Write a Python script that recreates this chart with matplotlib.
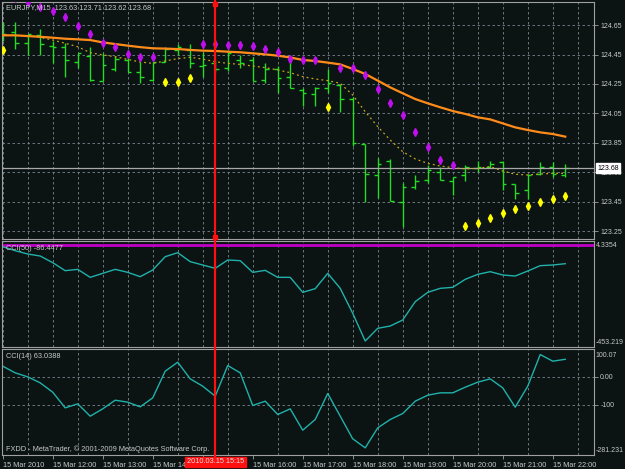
import numpy as np
import matplotlib.pyplot as plt
from matplotlib.transforms import blended_transform_factory

nan = np.nan

# EURJPY M15, 15 Mar 2010 11:00 .. 22:15 (46 bars)
opens = [124.60, 124.60, 124.53, 124.58, 124.51, 124.50, 124.40, 124.44, 124.27, 124.35,
         124.41, 124.33, 124.28, 124.40, 124.48, 124.48, 124.37, 124.39, 124.36, 124.41,
         124.41, 124.28, 124.35, 124.30, 124.21, 124.18, 124.22, 124.24, 124.15, 123.84,
         123.63, 123.73, 123.45, 123.55, 123.60, 123.65, 123.59, 123.63, 123.68, 123.69,
         123.72, 123.57, 123.53, 123.64, 123.69, 123.63]
highs = [124.67, 124.67, 124.59, 124.62, 124.54, 124.53, 124.46, 124.50, 124.46, 124.44,
         124.46, 124.40, 124.40, 124.50, 124.52, 124.52, 124.47, 124.41, 124.48, 124.45,
         124.43, 124.39, 124.37, 124.41, 124.22, 124.23, 124.35, 124.25, 124.16, 123.84,
         123.75, 123.74, 123.58, 123.63, 123.70, 123.69, 123.62, 123.70, 123.73, 123.73,
         123.73, 123.57, 123.64, 123.72, 123.72, 123.71]
lows = [124.54, 124.49, 124.45, 124.45, 124.39, 124.30, 124.36, 124.27, 124.27, 124.34,
        124.33, 124.26, 124.27, 124.40, 124.45, 124.36, 124.30, 124.33, 124.34, 124.36,
        124.27, 124.26, 124.19, 124.22, 124.10, 124.10, 124.19, 124.06, 123.83, 123.45,
        123.48, 123.46, 123.28, 123.54, 123.58, 123.60, 123.50, 123.59, 123.65, 123.68,
        123.53, 123.47, 123.47, 123.63, 123.62, 123.62]
closes = [124.59, 124.53, 124.59, 124.52, 124.50, 124.41, 124.46, 124.28, 124.38, 124.42,
          124.33, 124.30, 124.40, 124.49, 124.50, 124.39, 124.38, 124.35, 124.46, 124.39,
          124.27, 124.35, 124.29, 124.22, 124.19, 124.22, 124.26, 124.15, 123.85, 123.64,
          123.71, 123.46, 123.55, 123.59, 123.67, 123.60, 123.62, 123.69, 123.69, 123.71,
          123.57, 123.51, 123.63, 123.69, 123.64, 123.68]

ma_slow = [124.58, 124.58, 124.575, 124.57, 124.564, 124.557, 124.553, 124.548, 124.532, 124.521,
           124.51, 124.50, 124.492, 124.49, 124.487, 124.481, 124.476, 124.474, 124.469, 124.465,
           124.458, 124.451, 124.442, 124.43, 124.413, 124.406, 124.395, 124.383, 124.352, 124.318,
           124.273, 124.227, 124.187, 124.148, 124.119, 124.092, 124.067, 124.047, 124.024, 124.010,
           123.983, 123.956, 123.938, 123.922, 123.911, 123.893]
ma_fast = [nan, nan, 124.58, 124.566, 124.548, 124.526, 124.503, 124.462, 124.447, 124.435,
           124.417, 124.399, 124.39, 124.406, 124.422, 124.431, 124.419, 124.401, 124.39, 124.383,
           124.372, 124.361, 124.345, 124.327, 124.30, 124.284, 124.273, 124.255, 124.175, 124.062,
           123.961, 123.87, 123.791, 123.742, 123.712, 123.694, 123.683, 123.674, 123.678, 123.69,
           123.66, 123.638, 123.633, 123.64, 123.644, 123.644]

sar_above = [nan, 124.83, 124.808, 124.774, 124.747, 124.706, 124.643, 124.589, 124.530, 124.499,
             124.453, 124.431, 124.431, nan, nan, nan, 124.521, 124.521, 124.512, 124.512,
             124.508, 124.490, 124.465, 124.422, 124.413, 124.410, nan, 124.356, 124.356, 124.313,
             124.214, 124.123, 124.040, 123.922, 123.825, 123.735, 123.701, nan, nan, nan,
             nan, nan, nan, nan, nan, nan]
sar_below = [124.481, nan, nan, nan, nan, nan, nan, nan, nan, nan,
             nan, nan, nan, 124.266, 124.266, 124.288, nan, nan, nan, nan,
             nan, nan, nan, nan, nan, nan, 124.096, nan, nan, nan,
             nan, nan, nan, nan, nan, nan, nan, 123.287, 123.310, 123.339,
             123.373, 123.400, 123.425, 123.452, 123.470, 123.493]

cci50 = [-9.8, -27.8, -42.8, -51.8, -81.8, -117.9, -111.9, -147.9, -129.9, -111.9,
         -125.4, -144.9, -114.9, -54.8, -36.8, -77.3, -92.3, -107.4, -69.8, -72.8,
         -125.4, -116.4, -147.9, -147.9, -215.5, -198.9, -129.9, -197.4, -310.1, -434.7,
         -377.6, -367.1, -340.1, -257.5, -215.5, -197.4, -192.9, -156.9, -134.4, -122.4,
         -137.4, -141.9, -119.4, -95.3, -92.3, -86.4477]
cci14 = [38.3, 14.3, -0.1, -21.7, -55.3, -111.6, -97.2, -141.6, -115.2, -84.1,
         -91.2, -108.0, -75.7, 20.3, 52.6, -7.3, -33.7, -69.7, 40.6, 14.3,
         -103.2, -87.6, -135.6, -115.2, -192.0, -153.6, -60.1, -141.6, -223.1, -255.5,
         -183.6, -153.6, -132.0, -87.6, -66.1, -57.6, -57.6, -37.3, -19.3, -7.3,
         -39.7, -109.2, -33.7, 80.2, 56.2, 63.0388]

price_ticks = [124.65, 124.45, 124.25, 124.05, 123.85, 123.65, 123.45, 123.25]
hour_bars = list(range(0, 46, 4))
# the 15:00 label sits under the cursor's time box in the terminal
hour_labels = ["15 Mar 2010", "15 Mar 12:00", "15 Mar 13:00", "15 Mar 14:00",
               "", "15 Mar 16:00", "15 Mar 17:00", "15 Mar 18:00",
               "15 Mar 19:00", "15 Mar 20:00", "15 Mar 21:00", "15 Mar 22:00"]
cursor_bar = 17
cursor_label = "2010.03.15 15:15"
bid = 123.68

BG = "#0b1313"
GRID = "#7a8590"
FRAME = "#a0a0a0"
TXT = "#c8c8c8"
FONT = "Liberation Sans"
FS = 5.3
FS_R = 5.0

plt.rcParams["font.family"] = [FONT, "DejaVu Sans"]

W, H = 625, 469
fig = plt.figure(figsize=(6.25, 4.69), dpi=100, facecolor=BG)


def frame(top, bottom):
    return [2 / W, 1 - bottom / H, 592 / W, (bottom - top) / H]


ax_main = fig.add_axes(frame(2, 239))
ax_c50 = fig.add_axes(frame(241, 347))
ax_c14 = fig.add_axes(frame(349, 455))

x = np.arange(len(closes))

for ax in (ax_main, ax_c50, ax_c14):
    ax.set_facecolor(BG)
    for sp in ax.spines.values():
        sp.set_color(FRAME)
        sp.set_linewidth(0.8)
    ax.set_xlim(-0.056, 47.3)
    ax.set_xticks(np.arange(0, 48, 2), minor=True)
    ax.grid(which="minor", axis="x", color=GRID, lw=0.6, ls=(0, (3, 3)))
    ax.yaxis.tick_right()
    ax.tick_params(axis="y", colors=FRAME, labelcolor=TXT, labelsize=FS_R, length=3, width=0.6, pad=1.5)
    ax.tick_params(axis="x", which="minor", length=0)

# ---- price panel
ax_main.set_ylim(123.199, 124.806)
ax_main.set_xticks([])
ax_main.set_yticks(price_ticks)
ax_main.set_yticklabels([f"{p:.2f}" for p in price_ticks])
ax_main.grid(which="major", axis="y", color=GRID, lw=0.6, ls=(0, (3, 3)))

ax_main.vlines(x, lows, highs, color="#22dd22", lw=1.0)
ax_main.hlines(opens, x - 0.3, x, color="#22dd22", lw=1.0)
ax_main.hlines(closes, x, x + 0.3, color="#22dd22", lw=1.0)
ax_main.plot(x, ma_slow, color="#ff8c1a", lw=1.6, zorder=3)
ax_main.plot(x, ma_fast, color="#c8a818", lw=0.9, ls=(0, (1.5, 2.5)), zorder=3)
ax_main.plot(x, sar_above, ls="none", marker="d", ms=4.2, color="#c010f0", zorder=4)
ax_main.plot(x, sar_below, ls="none", marker="d", ms=4.2, color="#ffff00", zorder=4)
ax_main.axhline(bid, color="#a8a8a8", lw=0.9, zorder=2)
ax_main.annotate(f"{bid:.2f}", xy=(1.0, bid), xycoords=("axes fraction", "data"),
                 xytext=(2.5, 0), textcoords="offset points", ha="left", va="center",
                 fontsize=FS_R, color="black",
                 bbox=dict(boxstyle="square,pad=0.2", fc="white", ec="white"),
                 annotation_clip=False, zorder=6)
ax_main.text(0.007, 0.975, "EURJPY,M15  123.63 123.71 123.62 123.68", transform=ax_main.transAxes,
             fontsize=FS, color=TXT, va="center", ha="left", zorder=5)

# ---- CCI(50)
ax_c50.set_ylim(-461.7, 15.8)
ax_c50.set_xticks([])
ax_c50.set_yticks([])
ax_c50.axhline(0, color="#c000c8", lw=2.0)
ax_c50.plot(x, cci50, color="#20b2aa", lw=1.0)
ax_c50.text(0.007, 0.925, "CCI(50) -86.4477", transform=ax_c50.transAxes,
            fontsize=FS, color=TXT, va="center", ha="left")
ax_c50.text(1.0025, 0.962, "4.3354", transform=ax_c50.transAxes,
            fontsize=FS_R, color=TXT, va="center", ha="left")
ax_c50.text(1.0025, 0.038, "-453.219", transform=ax_c50.transAxes,
            fontsize=FS_R, color=TXT, va="center", ha="left")

# ---- CCI(14)
ax_c14.set_ylim(-281.231, 100.07)
ax_c14.set_yticks([0, -100])
ax_c14.set_yticklabels(["0.00", "-100"])
ax_c14.grid(which="major", axis="y", color=GRID, lw=0.6, ls=(0, (3, 3)))
ax_c14.plot(x, cci14, color="#20b2aa", lw=1.0)
ax_c14.text(0.007, 0.927, "CCI(14) 63.0388", transform=ax_c14.transAxes,
            fontsize=FS, color=TXT, va="center", ha="left")
ax_c14.text(0.007, 0.057, "FXDD - MetaTrader, \u00a9 2001-2009 MetaQuotes Software Corp.",
            transform=ax_c14.transAxes, fontsize=FS, color=TXT, va="center", ha="left")
ax_c14.text(1.0025, 0.943, "100.07", transform=ax_c14.transAxes,
            fontsize=FS_R, color=TXT, va="center", ha="left")
ax_c14.text(1.0025, 0.047, "-281.231", transform=ax_c14.transAxes,
            fontsize=FS_R, color=TXT, va="center", ha="left")

ax_c14.set_xticks(hour_bars)
ax_c14.set_xticklabels(hour_labels)
ax_c14.tick_params(axis="x", which="major", colors=FRAME, labelcolor=TXT, labelsize=FS,
                   length=3, width=0.6, pad=2)
for lab in ax_c14.get_xticklabels():
    lab.set_horizontalalignment("left")

# ---- cursor line
for ax in (ax_main, ax_c50, ax_c14):
    ax.axvline(cursor_bar, ymin=-0.03, ymax=1.02, color="#ff1010", lw=1.6, clip_on=False, zorder=5)
tr = blended_transform_factory(ax_main.transData, ax_main.transAxes)
ax_main.plot([cursor_bar, cursor_bar], [0.992, 0.008], transform=tr, ls="none", marker="s",
             ms=3.5, color="#ff1010", clip_on=False, zorder=6)
tr14 = blended_transform_factory(ax_c14.transData, ax_c14.transAxes)
ax_c14.text(cursor_bar, -0.066, cursor_label, transform=tr14, ha="center", va="center",
            fontsize=FS, color="#e0e0e0", zorder=7,
            bbox=dict(boxstyle="square,pad=0.25", fc="#ff1010", ec="#ff1010"))

plt.savefig("out.png", dpi=100, facecolor=BG)
